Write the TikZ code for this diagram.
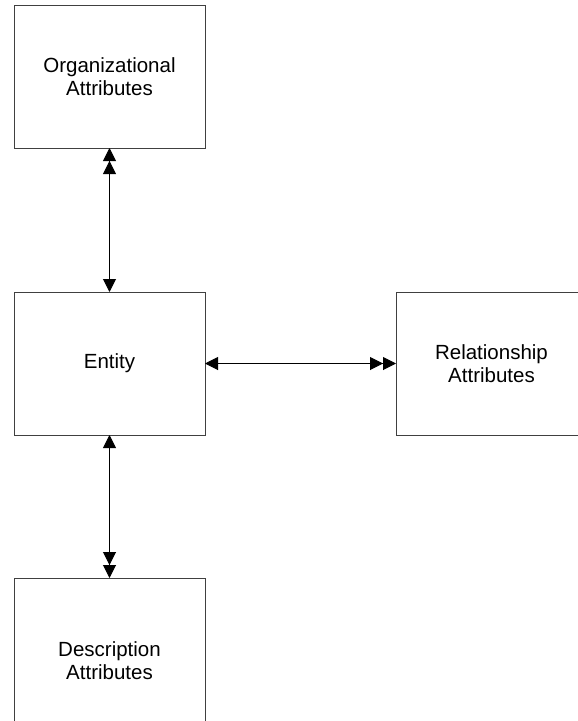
\documentclass[tikz,border=0pt]{standalone}
\usepackage{fontspec}
\setmainfont{Liberation Sans}
\usetikzlibrary{arrows.meta}
\begin{document}
\begin{tikzpicture}[x=1pt,y=-1pt,
  box/.style={draw=black!75, line width=1pt, minimum width=191pt, minimum height=143pt, inner sep=0pt, outer sep=0pt, align=center, font=\fontsize{20.5}{23}\selectfont, anchor=north west},
  conn/.style={line width=1pt, draw=black},
  tp/.tip={Triangle[length=13pt,width=13pt,sep=0pt]}]
\useasboundingbox (0,0) rectangle (578,721);
\clip (0,0) rectangle (578,721);
\node[box] (org) at (14,5) {Organizational\\Attributes};
\node[box] (ent) at (14,292) {Entity};
\node[box] (rel) at (396,292) {Relationship\\Attributes};
\node[box, minimum height=146pt] (desc) at (14,578) {};
\node[align=center, font=\fontsize{20.5}{23}\selectfont, inner sep=0pt] (desct) at (109.5,661) {Description\\Attributes};
\draw[conn, {tp[]tp[]}-{tp[]}] (org.south) -- (ent.north);
\draw[conn, {tp[]}-{tp[]tp[]}] (ent.east) -- (rel.west);
\draw[conn, {tp[]}-{tp[]tp[]}] (ent.south) -- (desc.north);
\end{tikzpicture}
\end{document}
